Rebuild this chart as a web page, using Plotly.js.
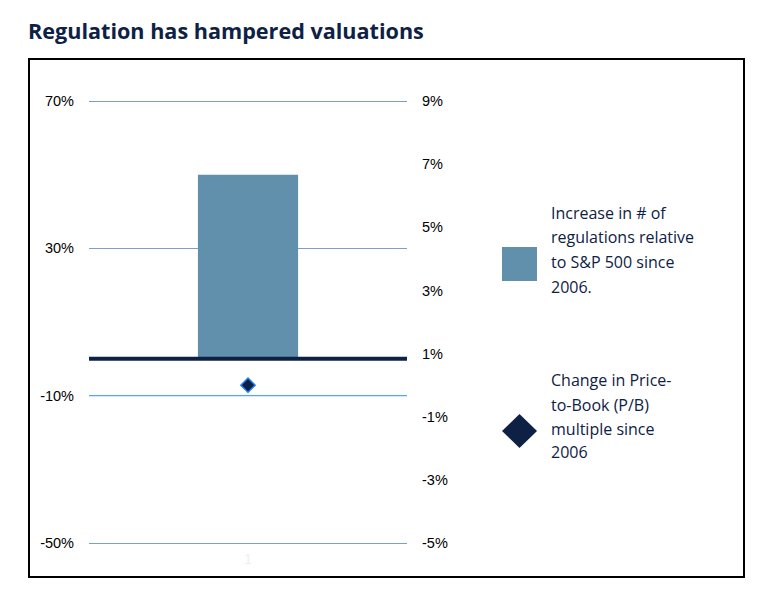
<!DOCTYPE html>
<html>
<head>
<meta charset="utf-8">
<script src="https://cdn.plot.ly/plotly-3.0.1.min.js"></script>
<style>
html,body{margin:0;padding:0;background:#fff;}
#chart{width:784px;height:597px;}
</style>
</head>
<body>
<div id="chart"></div>
<script>
// ---- data ----
var categories = ['1'];
var regulationIncrease = [50];      // % (left axis)
var pbChange = [0.0];               // % (right axis)
var leftTickVals = [70, 30, -10, -50];
var leftTickText = ['70%', '30%', '-10%', '-50%'];
var rightTickVals = [9, 7, 5, 3, 1, -1, -3, -5];
var rightTickText = ['9%', '7%', '5%', '3%', '1%', '-1%', '-3%', '-5%'];
var legendBarLines = ['Increase in # of', 'regulations relative', 'to S&P 500 since', '2006.'];
var legendDiamondLines = ['Change in Price-', 'to-Book (P/B)', 'multiple since', '2006'];
var titleText = 'Regulation has hampered valuations';

// ---- layout geometry (pixels) ----
var W = 784, H = 597;
var PL = 89, PR = 407, PT = 97, PB = 547;   // plot area
var G_TOP = 101, G_BOT = 543;               // pixel rows of the outer gridlines
function px(x){ return (x - PL) / (PR - PL); }
function py(y){ return (PB - y) / (PB - PT); }
function rangeFor(lo, hi){
  var per = (hi - lo) / (G_BOT - G_TOP);
  return [lo - (PB - G_BOT) * per, hi + (G_TOP - PT) * per];
}

var navy = '#0e2145';
var textFont = '"Open Sans", sans-serif';
var tickFont = '"Liberation Sans", Arial, sans-serif';

var traces = [
  {
    type: 'bar', x: categories, y: regulationIncrease, yaxis: 'y',
    marker: {color: '#6190ad'}, width: 0.315, hoverinfo: 'none', showlegend: false
  },
  {
    type: 'scatter', mode: 'markers', x: categories, y: pbChange, yaxis: 'y2',
    marker: {symbol: 'diamond', size: 11, color: navy, line: {color: '#2a7af0', width: 1.5}},
    hoverinfo: 'none', showlegend: false
  }
];

var annotations = [];
var barLineY = [213, 237.5, 262, 286.5];
legendBarLines.forEach(function(t, i){
  annotations.push({xref:'paper', yref:'paper', x: px(549), y: py(barLineY[i]), xanchor:'left', yanchor:'middle',
    text: t, showarrow:false, font:{family:textFont, size:16, color:navy}});
});
var diaLineY = [380, 404.5, 429, 452];
legendDiamondLines.forEach(function(t, i){
  annotations.push({xref:'paper', yref:'paper', x: px(549), y: py(diaLineY[i]), xanchor:'left', yanchor:'middle',
    text: t, showarrow:false, font:{family:textFont, size:16, color:navy}});
});

var shapes = [
  {type:'rect', xref:'paper', yref:'paper', x0: px(29), x1: px(744), y0: py(577), y1: py(59),
   line:{color:'#000', width:2}, fillcolor:'rgba(0,0,0,0)', layer:'above'},
  {type:'line', xref:'paper', yref:'y', x0:0, x1:1, y0:-10, y1:-10, line:{color:'#52a6fb', width:1.3}, layer:'above'},
  {type:'line', xref:'paper', yref:'y', x0:0, x1:1, y0:0, y1:0, line:{color:navy, width:4}, layer:'above'},
  {type:'rect', xref:'paper', yref:'paper', x0: px(502), x1: px(537), y0: py(281), y1: py(247),
   fillcolor:'#6190ad', line:{width:0}},
  {type:'path', xref:'paper', yref:'paper',
   path: 'M '+px(519.5)+' '+py(414)+' L '+px(537)+' '+py(431)+' L '+px(519.5)+' '+py(448)+' L '+px(502)+' '+py(431)+' Z',
   fillcolor: navy, line:{width:0}}
];

var layout = {
  width: W, height: H,
  margin: {l: PL, r: W - PR, t: PT, b: H - PB, pad: 0},
  paper_bgcolor: '#fff', plot_bgcolor: '#fff',
  showlegend: false,
  title: {text: '<b>' + titleText + '</b>', x: 28 / W, xanchor: 'left', xref: 'container',
          y: 1 - 31 / H, yanchor: 'middle', yref: 'container',
          font: {family: '"Open Sans", sans-serif', size: 21.6, color: navy}},
  xaxis: {type: 'category', range: [-0.5, 0.5], showgrid: false, zeroline: false, showline: false,
          ticks: '', tickfont: {family: tickFont, size: 14, color: '#eceef2'},
          ticklabelstandoff: 2, fixedrange: true},
  yaxis: {range: rangeFor(-50, 70), tickvals: leftTickVals, ticktext: leftTickText, showgrid: true,
          gridcolor: '#7f9ccc', gridwidth: 1, zeroline: false, showline: false, ticks: '',
          tickfont: {family: tickFont, size: 14.5, color: '#000'},
          ticklabelstandoff: 14, fixedrange: true},
  yaxis2: {range: rangeFor(-5, 9), tickvals: rightTickVals, ticktext: rightTickText, overlaying: 'y', side: 'right',
           showgrid: false, zeroline: false, showline: false, ticks: '',
           tickfont: {family: tickFont, size: 14.5, color: '#000'},
           ticklabelstandoff: 14, fixedrange: true},
  annotations: annotations,
  shapes: shapes
};

Plotly.newPlot('chart', traces, layout, {displayModeBar: false, staticPlot: true});
</script>
</body>
</html>
